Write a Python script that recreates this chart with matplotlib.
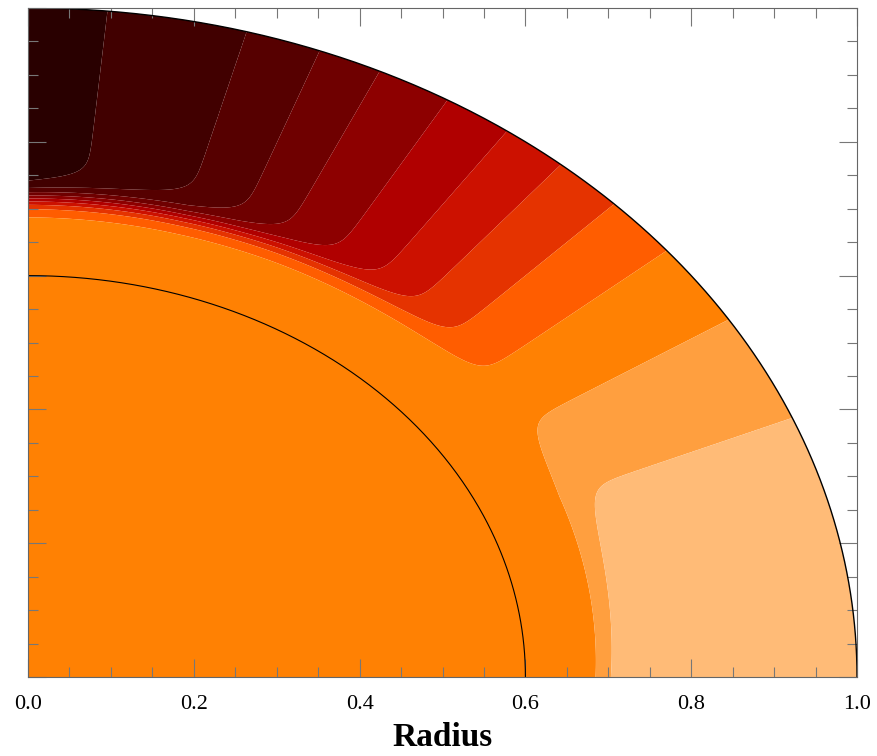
import numpy as np
import matplotlib
matplotlib.use('Agg')
import matplotlib.pyplot as plt
from matplotlib.patches import Wedge

plt.rcParams['font.family'] = ['Liberation Serif', 'DejaVu Serif']

boundary_angles = [22.8, 32.3, 39.6, 45.0, 50.0, 54.7, 59.6, 64.9, 69.4, 74.7, 84.5]
boundary_levels = [12, 11, 10, 9, 8, 7, 6, 5, 4, 3, 2]
equator_value = 12.9
pole_value = 1.4
interior_value = 10.5     # core band (plain orange)
shell_radius = 0.70       # where the shell takes over from the core
inner_circle = 0.6
levels = np.arange(1, 14)
# position of each band's colour on the gist_heat scale (pole -> equator)
band_shades = [0.107, 0.17, 0.225, 0.29, 0.37, 0.46, 0.535, 0.60, 0.68, 0.75, 0.81, 0.866]
xticks = [0.0, 0.2, 0.4, 0.6, 0.8, 1.0]
xtick_labels = ['0.0', '0.2', '0.4', '0.6', '0.8', '1.0']

# field on a grid
n = 900
xs = np.linspace(0, 1, n)
X, Y = np.meshgrid(xs, xs)
R = np.hypot(X, Y)
TH = np.degrees(np.arctan2(Y, X))
U = np.interp(TH, [0] + boundary_angles + [90],
              [equator_value] + boundary_levels + [pole_value])
r0 = shell_radius - 0.002 + 0.0175 * TH / 90.
S = 0.5 * (1 + np.tanh((R - r0) / 0.02))
V = interior_value + (U - interior_value) * S

colors = [plt.cm.gist_heat(t) for t in band_shades]

fig = plt.figure(figsize=(8.78, 7.56), dpi=100, facecolor='w')
ax = fig.add_axes([0.0319, 0.1045, 0.9442, 0.8849])

cs = ax.contourf(X, Y, V, levels=levels, colors=colors, antialiased=True)
clip = Wedge((0, 0), 1.0, 0, 90, transform=ax.transData)
cs.set_clip_path(clip)

t = np.linspace(0, np.pi / 2, 400)
ax.plot(np.cos(t), np.sin(t), color='k', lw=1.0)
ax.plot(inner_circle * np.cos(t), inner_circle * np.sin(t), color='k', lw=0.8)

ax.set_xlim(0, 1)
ax.set_ylim(0, 1)
ax.set_xticks(xticks)
ax.set_xticklabels(xtick_labels)
ax.set_yticks(xticks)
ax.set_yticklabels([])
ax.set_xticks(np.arange(0, 1.001, 0.05), minor=True)
ax.set_yticks(np.arange(0, 1.001, 0.05), minor=True)
ax.tick_params(which='both', direction='in', top=True, right=True,
               color='#777777', width=0.8)
ax.tick_params(which='major', length=13, labelsize=16, pad=13)
ax.tick_params(which='minor', length=7)
for sp in ax.spines.values():
    sp.set_color('#666666')
    sp.set_linewidth(0.8)

ax.set_xlabel('Radius', fontsize=24, fontweight='bold', labelpad=6)

fig.savefig('out.png', dpi=100)
